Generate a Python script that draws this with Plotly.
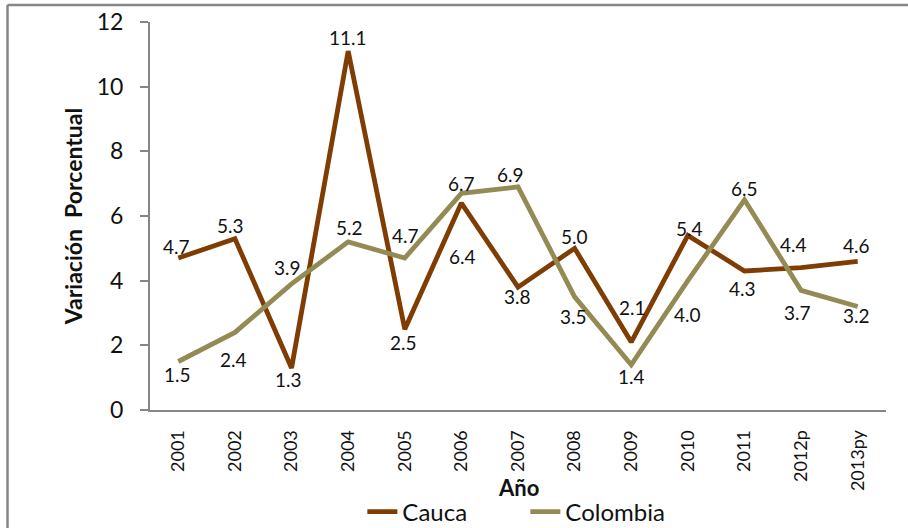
import plotly.graph_objects as go

years = ["2001", "2002", "2003", "2004", "2005", "2006", "2007", "2008",
         "2009", "2010", "2011", "2012p", "2013py"]
cauca = [4.7, 5.3, 1.3, 11.1, 2.5, 6.4, 3.8, 5.0, 2.1, 5.4, 4.3, 4.4, 4.6]
colombia = [1.5, 2.4, 3.9, 5.2, 4.7, 6.7, 6.9, 3.5, 1.4, 4.0, 6.5, 3.7, 3.2]

# label offsets in pixels (dx right, dy down) as placed in the original chart
cauca_off = [(-2, -12), (-4, -13), (-3, 12), (0, -14), (-1, 13), (1, 53), (-1, 9),
             (0, -12), (1, -35), (2, -7), (-2, 18), (-8, -23), (-1, -16)]
colombia_off = [(-1, 13), (-1, 27), (-4, -16), (1, -14), (1, -23), (0, -10), (-8, -12),
                (-1, 20), (0, 12), (0, 34), (0, -11), (-4, 22), (-1, 9)]

FONT = "Lato"
AXIS = "#868686"
LABEL_FONT = dict(family=FONT, size=19, color="#111111")

fig = go.Figure()
fig.add_trace(go.Scatter(
    x=years, y=cauca, name="Cauca", mode="lines",
    line=dict(color="#7F3D03", width=4.8),
))
fig.add_trace(go.Scatter(
    x=years, y=colombia, name="Colombia", mode="lines",
    line=dict(color="#948A54", width=4.8),
))

annotations = []
for series, offs in ((cauca, cauca_off), (colombia, colombia_off)):
    for i, (v, (dx, dy)) in enumerate(zip(series, offs)):
        annotations.append(dict(
            x=i, y=v, xref="x", yref="y", text=f"{v:.1f}", showarrow=False,
            xanchor="center", yanchor="middle", xshift=dx, yshift=-dy,
            font=LABEL_FONT,
        ))
annotations.append(dict(text="<b>Año</b>", x=0.5, y=-0.201, xref="paper", yref="paper",
                        xanchor="center", yanchor="middle",
                        showarrow=False, font=dict(family=FONT, size=22)))

fig.update_layout(
    width=908, height=528,
    margin=dict(l=150, r=22, t=22, b=118, autoexpand=False),
    paper_bgcolor="white", plot_bgcolor="white",
    font=dict(family=FONT, size=18, color="#111111"),
    showlegend=True,
    legend=dict(orientation="h", x=0.51, xanchor="center", y=-0.263, yanchor="middle",
                font=dict(family=FONT, size=24), tracegroupgap=0,
                entrywidth=118, entrywidthmode="pixels"),
    xaxis=dict(
        type="category", range=[-0.5, 12.5], showgrid=False, automargin=False,
        showline=True, linecolor=AXIS, linewidth=2,
        ticks="", tickangle=-90, ticklabelstandoff=11,
        tickfont=dict(family=FONT, size=18),
    ),
    yaxis=dict(
        range=[0, 12], dtick=2, showgrid=False, zeroline=False, automargin=False,
        showline=True, linecolor=AXIS, linewidth=2,
        ticks="outside", ticklen=8, tickcolor=AXIS, tickwidth=1.5,
        ticklabelstandoff=12,
        tickfont=dict(family=FONT, size=23),
        title=dict(text="<b>Variación  Porcentual</b>", standoff=8,
                   font=dict(family=FONT, size=23)),
    ),
    annotations=annotations,
    shapes=[
        dict(type="line", xref="paper", yref="paper", x0=-0.1936, x1=-0.1936,
             y0=1.0438, y1=-0.31, line=dict(color=AXIS, width=2.5)),
        dict(type="line", xref="paper", yref="paper", x0=-0.1936, x1=1.04,
             y0=1.0438, y1=1.0438, line=dict(color=AXIS, width=2.5)),
    ],
)

fig.write_html("out.html", config={"displayModeBar": False},
               post_script="document.body.style.margin='0';")
